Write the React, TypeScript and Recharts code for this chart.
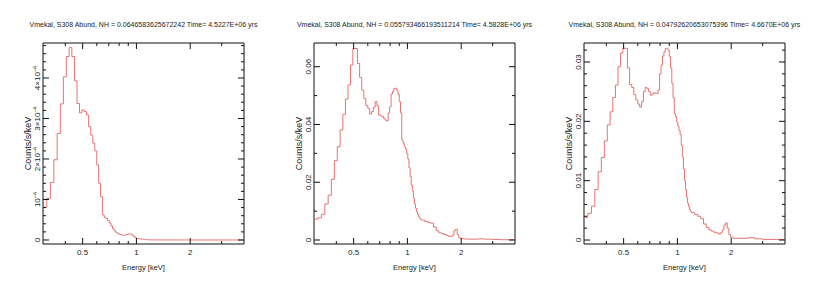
import React from 'react';
import { LineChart, Line, XAxis, YAxis, ReferenceArea } from 'recharts';

// lower edges of the energy bins (keV); last entry closes the final step
const energy = [
  0.300, 0.315, 0.330, 0.345, 0.360, 0.375, 0.390, 0.405, 0.420, 0.435,
  0.450, 0.465, 0.480, 0.495, 0.510, 0.525, 0.540, 0.555, 0.570, 0.585,
  0.600, 0.615, 0.630, 0.645, 0.660, 0.675, 0.690, 0.705, 0.720, 0.735,
  0.750, 0.765, 0.780, 0.795, 0.810, 0.825, 0.840, 0.855, 0.870, 0.885,
  0.900, 0.915, 0.930, 0.945, 0.960, 0.975, 0.990, 1.005, 1.020, 1.035,
  1.050, 1.065, 1.080, 1.095, 1.110, 1.125, 1.140, 1.155, 1.170, 1.185,
  1.200, 1.25, 1.30, 1.35, 1.40, 1.45, 1.50, 1.55, 1.60, 1.65,
  1.70, 1.74, 1.78, 1.82, 1.86, 1.90, 1.94, 1.98, 2.05, 2.15,
  2.30, 2.50, 2.70, 3.00, 3.30, 3.60, 4.00,
];

// counts/s/keV, first spectrum in units of 1e-4
const spec1 = [
  0.81, 1.03, 1.42, 1.98, 2.63, 3.36, 4.03, 4.53, 4.75, 4.53,
  3.93, 3.37, 3.14, 3.21, 3.17, 3.09, 2.80, 2.59, 2.39, 2.20,
  1.85, 1.40, 1.07, 0.62, 0.56, 0.53, 0.48, 0.42, 0.35, 0.28,
  0.23, 0.19, 0.16, 0.15, 0.13, 0.12, 0.12, 0.12, 0.13, 0.14,
  0.15, 0.15, 0.14, 0.12, 0.09, 0.07, 0.05, 0.04, 0.03, 0.03,
  0.025, 0.02, 0.02, 0.015, 0.012, 0.01, 0.008, 0.006, 0.005, 0.004,
  0.003, 0.002, 0.002, 0.001, 0.001, 0.001, 0.001, 0.001, 0.001, 0.001,
  0.001, 0.001, 0.001, 0.001, 0.001, 0.001, 0.0005, 0.0005, 0.0005, 0.0005,
  0.0005, 0.0005, 0.0003, 0.0003, 0.0002, 0.0002, 0.0002,
];

const spec2 = [
  0.0072, 0.0077, 0.0089, 0.0125, 0.0155, 0.0210, 0.0275, 0.0323, 0.0381, 0.0435,
  0.0488, 0.0537, 0.0606, 0.0663, 0.0663, 0.0611, 0.0563, 0.0519, 0.0490, 0.0466,
  0.0456, 0.0436, 0.0445, 0.0460, 0.0479, 0.0465, 0.0433, 0.0430, 0.0427, 0.0421,
  0.0415, 0.0412, 0.0440, 0.0461, 0.0505, 0.0515, 0.0525, 0.0525, 0.0519, 0.0505,
  0.0479, 0.0440, 0.0346, 0.0335, 0.0323, 0.0315, 0.0300, 0.0280, 0.0250, 0.0220,
  0.0190, 0.0170, 0.0145, 0.0125, 0.0110, 0.0098, 0.0088, 0.0080, 0.0075, 0.0071,
  0.0069, 0.0064, 0.0061, 0.0058, 0.0045, 0.0032, 0.0025, 0.0022, 0.0019, 0.0016,
  0.0013, 0.0012, 0.0018, 0.0032, 0.0037, 0.0018, 0.0008, 0.0005, 0.0004, 0.0003,
  0.0003, 0.0004, 0.0003, 0.0002, 0.0001, 0.0001, 0.0001,
];

const spec3 = [
  0.0038, 0.0045, 0.0057, 0.0085, 0.0115, 0.0139, 0.0167, 0.0194, 0.0216, 0.0240,
  0.0261, 0.0292, 0.0315, 0.0323, 0.0323, 0.0290, 0.0262, 0.0257, 0.0245, 0.0236,
  0.0229, 0.0224, 0.0233, 0.0250, 0.0257, 0.0255, 0.0250, 0.0244, 0.0246, 0.0248,
  0.0247, 0.0247, 0.0253, 0.0280, 0.0295, 0.0310, 0.0317, 0.0323, 0.0323, 0.0320,
  0.0309, 0.0290, 0.0264, 0.0240, 0.0213, 0.0208, 0.0199, 0.0192, 0.0185, 0.0178,
  0.0160, 0.0140, 0.0120, 0.0100, 0.0085, 0.0072, 0.0062, 0.0056, 0.0051, 0.0048,
  0.0046, 0.0043, 0.0040, 0.0036, 0.0027, 0.0021, 0.0017, 0.0015, 0.0013, 0.0012,
  0.0010, 0.0012, 0.0017, 0.0025, 0.0029, 0.0020, 0.0009, 0.0005, 0.0003, 0.0003,
  0.0003, 0.0004, 0.0002, 0.0001, 0.0001, 0.0001, 0.0001,
];

const titles = [
  'Vmekal, S308 Abund, NH = 0.0646583625672242 Time= 4.5227E+06 yrs',
  'Vmekal, S308 Abund, NH = 0.055793466193511214 Time= 4.5828E+06 yrs',
  'Vmekal, S308 Abund, NH = 0.04792620653075396 Time= 4.6670E+06 yrs',
];

const xMajor = [0.5, 1, 2];
const xMinor = [0.4, 0.6, 0.7, 0.8, 0.9, 3];

const yMajor1 = [0, 1, 2, 3, 4];
const yMinor1 = [0.2, 0.4, 0.6, 0.8, 1.2, 1.4, 1.6, 1.8, 2.2, 2.4, 2.6, 2.8, 3.2, 3.4, 3.6, 3.8, 4.2, 4.4, 4.6, 4.8];
const yMajor2 = [0, 0.02, 0.04, 0.06];
const yMinor2 = [0.01, 0.03, 0.05];
const yMajor3 = [0, 0.01, 0.02, 0.03];
const yMinor3 = [0.002, 0.004, 0.006, 0.008, 0.012, 0.014, 0.016, 0.018, 0.022, 0.024, 0.026, 0.028, 0.032];

// plot box inside each chart svg
const L = 43, R = 244, T = 43, B = 244;
const FONT = '"Liberation Sans", Arial, Helvetica, sans-serif';
const RED = '#e67373';

const rows = energy.map((e, i) => ({ e, s1: spec1[i], s2: spec2[i], s3: spec3[i] }));

const fmt1 = (v: number) => {
  if (v === 0) return <>0</>;
  return (
    <>
      {v === 1 ? '' : `${v}×`}10<tspan dy={-3} fontSize={5.5}>−4</tspan>
    </>
  );
};
const fmtPlain = (v: number) => <>{v === 0 ? '0' : String(v)}</>;

const panels = [
  { key: 's1', left: 0, domain: [-0.099, 4.864], major: yMajor1, minor: yMinor1, fmt: fmt1 },
  { key: 's2', left: 271, domain: [-0.00138, 0.0682], major: yMajor2, minor: yMinor2, fmt: fmtPlain },
  { key: 's3', left: 541, domain: [-0.00067, 0.0332], major: yMajor3, minor: yMinor3, fmt: fmtPlain },
];

function XTick(props: any) {
  const { x, payload } = props;
  const major = xMajor.includes(payload.value);
  const len = major ? 6 : 3;
  return (
    <g>
      <line x1={x} x2={x} y1={B} y2={B - len} stroke="#111" />
      <line x1={x} x2={x} y1={T} y2={T + len} stroke="#111" />
      {major && (
        <text x={x} y={255} textAnchor="middle" fontSize={8} fontFamily={FONT} fill="#222">
          {payload.value}
        </text>
      )}
    </g>
  );
}

function makeYTick(major: number[], fmt: (v: number) => React.ReactNode) {
  return (props: any) => {
    const { y, payload } = props;
    const isMajor = major.includes(payload.value);
    const len = isMajor ? 6 : 3;
    return (
      <g>
        <line x1={L} x2={L + len} y1={y} y2={y} stroke="#111" />
        <line x1={R} x2={R - len} y1={y} y2={y} stroke="#111" />
        {isMajor && (
          <text
            x={L - 3}
            y={y}
            transform={`rotate(-90, ${L - 3}, ${y})`}
            textAnchor="middle"
            fontSize={8}
            fontFamily={FONT}
            fill="#222"
          >
            {fmt(payload.value)}
          </text>
        )}
      </g>
    );
  };
}

export default function App() {
  return (
    <div style={{ position: 'absolute', left: 0, top: 0, width: 828, height: 288, background: '#fff' }}>
      {panels.map((p, i) => (
        <div key={p.key} style={{ position: 'absolute', left: p.left, top: 0 }}>
          <LineChart width={276} height={288} data={rows} margin={{ top: T, right: 32, bottom: 14, left: 13 }}>
            <XAxis
              dataKey="e"
              type="number"
              scale="log"
              domain={[0.3, 4]}
              ticks={[...xMajor, ...xMinor]}
              interval={0}
              allowDataOverflow
              height={30}
              axisLine={false}
              tickLine={false}
              tick={(tp: any) => <XTick {...tp} />}
            />
            <YAxis
              type="number"
              domain={p.domain}
              ticks={[...p.major, ...p.minor]}
              interval={0}
              allowDataOverflow
              width={30}
              axisLine={false}
              tickLine={false}
              tick={makeYTick(p.major, p.fmt)}
            />
            <ReferenceArea
              x1={0.3}
              x2={4}
              y1={p.domain[0]}
              y2={p.domain[1]}
              fill="none"
              stroke="#111"
              strokeWidth={1}
              ifOverflow="visible"
            />
            <Line
              dataKey={p.key}
              type="stepAfter"
              stroke={RED}
              strokeWidth={1}
              dot={false}
              activeDot={false}
              isAnimationActive={false}
            />
          </LineChart>
        </div>
      ))}
      <svg width={828} height={288} style={{ position: 'absolute', left: 0, top: 0, pointerEvents: 'none' }}>
        {panels.map((p, i) => {
          const cx = p.left + (L + R) / 2;
          const yx = p.left + L - 12;
          return (
            <g key={p.key} fontFamily={FONT} fill="#222">
              <text x={cx} y={27} textAnchor="middle" fontSize={7}>
                {titles[i]}
              </text>
              <text x={cx} y={270} textAnchor="middle" fontSize={7.5}>
                Energy [keV]
              </text>
              <text x={yx} y={143.5} textAnchor="middle" fontSize={9} transform={`rotate(-90, ${yx}, 143.5)`}>
                Counts/s/keV
              </text>
            </g>
          );
        })}
      </svg>
    </div>
  );
}
